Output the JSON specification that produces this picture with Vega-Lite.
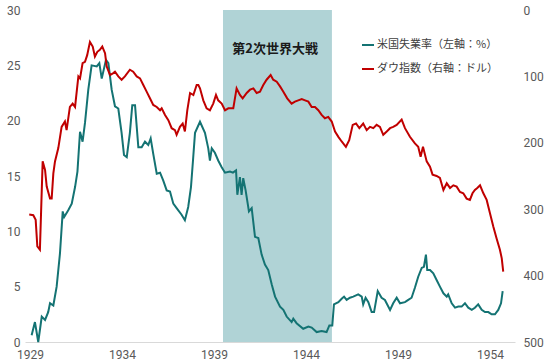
{
  "$schema": "https://vega.github.io/schema/vega-lite/v6.json",
  "width": 490,
  "height": 332,
  "autosize": {"type": "none"},
  "padding": {"left": 25, "top": 10, "right": 35, "bottom": 21},
  "background": "white",
  "config": {
    "view": {"stroke": null},
    "font": "Roboto",
    "axis": {"labelColor": "#595959", "labelFontSize": 12, "labelFont": "Roboto", "ticks": false, "grid": false, "title": null}
  },
  "datasets": {
    "unemp": [
      {"t":1929.09,"v":0.6},{"t":1929.27,"v":1.8},{"t":1929.45,"v":0.0},{"t":1929.64,"v":2.3},{"t":1929.82,"v":2.0},{"t":1929.99,"v":2.7},
      {"t":1930.09,"v":3.5},{"t":1930.27,"v":3.3},{"t":1930.45,"v":5.0},{"t":1930.63,"v":8.0},{"t":1930.78,"v":11.8},{"t":1930.86,"v":11.3},
      {"t":1931.08,"v":11.9},{"t":1931.27,"v":12.5},{"t":1931.45,"v":14.0},{"t":1931.58,"v":15.4},{"t":1931.72,"v":19.0},{"t":1931.86,"v":18.1},{"t":1931.99,"v":19.8},
      {"t":1932.17,"v":22.8},{"t":1932.35,"v":25.0},{"t":1932.63,"v":24.9},{"t":1932.77,"v":25.2},{"t":1932.90,"v":23.8},
      {"t":1933.13,"v":25.5},{"t":1933.26,"v":25.2},{"t":1933.44,"v":22.8},{"t":1933.62,"v":21.3},{"t":1933.80,"v":21.1},{"t":1933.98,"v":18.9},
      {"t":1934.11,"v":16.9},{"t":1934.26,"v":16.7},{"t":1934.43,"v":18.9},{"t":1934.56,"v":21.4},{"t":1934.71,"v":21.4},{"t":1934.89,"v":17.6},
      {"t":1935.07,"v":17.6},{"t":1935.25,"v":18.1},{"t":1935.43,"v":17.8},{"t":1935.56,"v":18.4},{"t":1935.70,"v":17.0},{"t":1935.89,"v":15.2},
      {"t":1936.07,"v":15.3},{"t":1936.24,"v":14.6},{"t":1936.43,"v":13.7},{"t":1936.61,"v":13.6},{"t":1936.79,"v":12.5},{"t":1936.97,"v":12.1},
      {"t":1937.24,"v":11.5},{"t":1937.42,"v":11.0},{"t":1937.60,"v":12.2},{"t":1937.75,"v":14.0},{"t":1937.86,"v":16.4},{"t":1937.97,"v":18.9},
      {"t":1938.24,"v":19.9},{"t":1938.51,"v":18.9},{"t":1938.69,"v":17.5},{"t":1938.78,"v":16.4},{"t":1938.88,"v":17.5},
      {"t":1939.05,"v":17.1},{"t":1939.23,"v":16.4},{"t":1939.42,"v":15.8},{"t":1939.60,"v":15.3},{"t":1939.87,"v":15.4},
      {"t":1940.03,"v":15.3},{"t":1940.20,"v":15.5},{"t":1940.27,"v":13.3},{"t":1940.41,"v":14.9},{"t":1940.50,"v":13.3},{"t":1940.59,"v":14.8},{"t":1940.72,"v":13.7},{"t":1940.90,"v":11.8},
      {"t":1941.05,"v":12.1},{"t":1941.23,"v":9.5},{"t":1941.41,"v":9.4},{"t":1941.59,"v":7.9},{"t":1941.77,"v":7.0},{"t":1941.95,"v":6.5},
      {"t":1942.14,"v":5.2},{"t":1942.32,"v":4.1},{"t":1942.59,"v":3.2},{"t":1942.77,"v":2.9},{"t":1942.95,"v":2.3},
      {"t":1943.22,"v":1.8},{"t":1943.31,"v":2.1},{"t":1943.49,"v":1.7},{"t":1943.85,"v":1.2},
      {"t":1944.13,"v":1.4},{"t":1944.31,"v":1.3},{"t":1944.58,"v":0.9},{"t":1944.85,"v":1.0},
      {"t":1945.12,"v":0.9},{"t":1945.27,"v":1.5},{"t":1945.43,"v":1.5},{"t":1945.52,"v":3.4},{"t":1945.76,"v":3.6},{"t":1945.94,"v":3.9},
      {"t":1946.07,"v":4.1},{"t":1946.21,"v":3.8},{"t":1946.39,"v":4.0},{"t":1946.57,"v":4.1},{"t":1946.84,"v":4.3},
      {"t":1947.03,"v":4.1},{"t":1947.11,"v":3.4},{"t":1947.24,"v":4.0},{"t":1947.39,"v":3.6},{"t":1947.57,"v":2.7},{"t":1947.70,"v":2.7},{"t":1947.90,"v":4.6},
      {"t":1948.11,"v":4.0},{"t":1948.29,"v":3.8},{"t":1948.57,"v":2.9},{"t":1948.74,"v":3.5},{"t":1948.93,"v":4.0},
      {"t":1949.11,"v":3.5},{"t":1949.38,"v":3.6},{"t":1949.56,"v":3.8},{"t":1949.74,"v":4.0},{"t":1949.92,"v":4.9},
      {"t":1950.10,"v":5.9},{"t":1950.29,"v":6.7},{"t":1950.41,"v":6.8},{"t":1950.52,"v":7.9},{"t":1950.59,"v":6.5},{"t":1950.74,"v":6.5},{"t":1950.92,"v":6.2},
      {"t":1951.10,"v":5.6},{"t":1951.28,"v":5.0},{"t":1951.47,"v":4.4},{"t":1951.65,"v":4.1},{"t":1951.73,"v":4.3},{"t":1951.92,"v":3.5},
      {"t":1952.10,"v":3.1},{"t":1952.28,"v":3.2},{"t":1952.46,"v":3.2},{"t":1952.64,"v":3.5},{"t":1952.82,"v":3.1},
      {"t":1953.01,"v":2.9},{"t":1953.18,"v":3.1},{"t":1953.36,"v":3.4},{"t":1953.55,"v":2.9},{"t":1953.73,"v":2.7},{"t":1953.91,"v":2.7},
      {"t":1954.09,"v":2.5},{"t":1954.27,"v":2.5},{"t":1954.45,"v":2.9},{"t":1954.60,"v":3.5},{"t":1954.69,"v":4.6}
    ],
    "dow": [
      {"t":1928.96,"v":308},{"t":1929.18,"v":309},{"t":1929.31,"v":316},{"t":1929.40,"v":356},{"t":1929.54,"v":361},{"t":1929.69,"v":228},
      {"t":1929.82,"v":241},{"t":1929.91,"v":266},{"t":1930.09,"v":284},{"t":1930.18,"v":284},{"t":1930.27,"v":246},{"t":1930.36,"v":228},
      {"t":1930.54,"v":208},{"t":1930.72,"v":176},{"t":1930.90,"v":168},{"t":1930.99,"v":181},{"t":1931.17,"v":146},{"t":1931.32,"v":141},
      {"t":1931.45,"v":146},{"t":1931.63,"v":100},{"t":1931.72,"v":103},{"t":1931.86,"v":80},{"t":1931.99,"v":78},{"t":1932.11,"v":68},
      {"t":1932.26,"v":48},{"t":1932.41,"v":55},{"t":1932.53,"v":70},{"t":1932.66,"v":63},{"t":1932.80,"v":60},{"t":1932.93,"v":55},
      {"t":1933.08,"v":65},{"t":1933.17,"v":85},{"t":1933.35,"v":98},{"t":1933.53,"v":95},{"t":1933.62,"v":93},{"t":1933.80,"v":100},
      {"t":1933.98,"v":105},{"t":1934.16,"v":100},{"t":1934.43,"v":90},{"t":1934.61,"v":93},{"t":1934.80,"v":100},{"t":1934.98,"v":103},
      {"t":1935.16,"v":113},{"t":1935.34,"v":123},{"t":1935.52,"v":133},{"t":1935.70,"v":143},{"t":1935.89,"v":146},{"t":1936.07,"v":151},
      {"t":1936.16,"v":148},{"t":1936.34,"v":158},{"t":1936.52,"v":166},{"t":1936.70,"v":178},{"t":1936.88,"v":181},{"t":1936.97,"v":188},
      {"t":1937.15,"v":176},{"t":1937.30,"v":171},{"t":1937.42,"v":183},{"t":1937.55,"v":151},{"t":1937.70,"v":125},{"t":1937.88,"v":128},
      {"t":1938.06,"v":113},{"t":1938.15,"v":113},{"t":1938.24,"v":118},{"t":1938.42,"v":136},{"t":1938.60,"v":148},{"t":1938.78,"v":151},
      {"t":1938.96,"v":141},{"t":1939.11,"v":128},{"t":1939.23,"v":136},{"t":1939.42,"v":141},{"t":1939.60,"v":151},{"t":1939.78,"v":148},
      {"t":1940.05,"v":148},{"t":1940.11,"v":138},{"t":1940.23,"v":118},{"t":1940.41,"v":128},{"t":1940.56,"v":133},{"t":1940.78,"v":125},
      {"t":1940.96,"v":120},{"t":1941.14,"v":118},{"t":1941.32,"v":125},{"t":1941.50,"v":123},{"t":1941.68,"v":113},{"t":1941.86,"v":105},
      {"t":1942.08,"v":98},{"t":1942.22,"v":105},{"t":1942.41,"v":108},{"t":1942.59,"v":115},{"t":1942.77,"v":123},{"t":1942.98,"v":133},
      {"t":1943.22,"v":141},{"t":1943.40,"v":138},{"t":1943.58,"v":136},{"t":1943.77,"v":134},{"t":1943.95,"v":136},{"t":1944.13,"v":138},
      {"t":1944.31,"v":146},{"t":1944.49,"v":146},{"t":1944.67,"v":151},{"t":1944.85,"v":158},{"t":1945.03,"v":163},{"t":1945.21,"v":161},
      {"t":1945.40,"v":168},{"t":1945.58,"v":183},{"t":1945.76,"v":191},{"t":1945.94,"v":198},{"t":1946.17,"v":206},{"t":1946.35,"v":196},
      {"t":1946.54,"v":173},{"t":1946.72,"v":171},{"t":1946.90,"v":178},{"t":1947.11,"v":171},{"t":1947.30,"v":181},{"t":1947.48,"v":176},
      {"t":1947.66,"v":178},{"t":1947.84,"v":173},{"t":1948.02,"v":176},{"t":1948.20,"v":188},{"t":1948.39,"v":183},{"t":1948.57,"v":178},
      {"t":1948.74,"v":176},{"t":1948.93,"v":173},{"t":1949.20,"v":165},{"t":1949.38,"v":178},{"t":1949.65,"v":191},{"t":1949.92,"v":201},
      {"t":1950.10,"v":206},{"t":1950.23,"v":221},{"t":1950.36,"v":206},{"t":1950.56,"v":228},{"t":1950.74,"v":236},{"t":1950.88,"v":248},
      {"t":1951.10,"v":250},{"t":1951.28,"v":253},{"t":1951.47,"v":271},{"t":1951.65,"v":261},{"t":1951.83,"v":268},{"t":1952.01,"v":264},
      {"t":1952.19,"v":266},{"t":1952.37,"v":274},{"t":1952.55,"v":276},{"t":1952.73,"v":284},{"t":1952.91,"v":286},{"t":1953.05,"v":276},
      {"t":1953.18,"v":271},{"t":1953.31,"v":268},{"t":1953.46,"v":264},{"t":1953.64,"v":276},{"t":1953.82,"v":286},{"t":1954.00,"v":306},
      {"t":1954.18,"v":326},{"t":1954.36,"v":344},{"t":1954.54,"v":361},{"t":1954.64,"v":374},{"t":1954.72,"v":394}
    ],
    "war": [{"start":1939.49,"end":1945.41,"t":1942.32,"y":26.5,"label":"第2次世界大戦"}]
  },
  "layer": [
    {
      "layer": [
        {
          "data": {"name": "war"},
          "mark": {"type": "rect", "color": "#b0d3d6"},
          "encoding": {
            "x": {"field": "start", "type": "quantitative", "scale": {"domain": [1928.73, 1955.36], "nice": false, "zero": false}},
            "x2": {"field": "end"}
          }
        },
        {
          "data": {"name": "war"},
          "mark": {"type": "text", "font": "Noto Sans CJK JP", "fontSize": 13, "fontWeight": "bold", "color": "#1a1a1a"},
          "encoding": {
            "x": {"field": "t", "type": "quantitative"},
            "y": {"field": "y", "type": "quantitative"},
            "text": {"field": "label"}
          }
        },
        {
          "data": {"name": "unemp"},
          "mark": {"type": "line", "strokeWidth": 2},
          "encoding": {
            "x": {"field": "t", "type": "quantitative",
              "axis": {"values": [1929,1934,1939,1944,1949,1954], "format": "d", "domainColor": "#d9d9d9", "domainWidth": 1, "labelPadding": 7, "labelFlush": false}},
            "y": {"field": "v", "type": "quantitative", "scale": {"domain": [0, 30], "nice": false},
              "axis": {"orient": "left", "values": [0,5,10,15,20,25,30], "domain": false, "labelPadding": 5}},
            "color": {"datum": "米国失業率（左軸：%）", "type": "nominal",
              "scale": {"domain": ["米国失業率（左軸：%）", "ダウ指数（右軸：ドル）"], "range": ["#147373", "#c00000"]},
              "legend": {"orient": "none", "legendX": 336, "legendY": 28, "title": null, "symbolType": "stroke", "symbolSize": 144, "symbolStrokeWidth": 2,
                "labelFont": "Noto Sans CJK JP", "labelFontSize": 11, "labelColor": "#404040", "labelOffset": 2, "rowPadding": 12}}
          }
        }
      ]
    },
    {
      "data": {"name": "dow"},
      "mark": {"type": "line", "strokeWidth": 2},
      "encoding": {
        "x": {"field": "t", "type": "quantitative"},
        "y": {"field": "v", "type": "quantitative", "scale": {"domain": [0, 500], "reverse": true, "nice": false},
          "axis": {"orient": "right", "values": [0,100,200,300,400,500], "domain": false, "labelPadding": 8}},
        "color": {"datum": "ダウ指数（右軸：ドル）", "type": "nominal"}
      }
    }
  ],
  "resolve": {"scale": {"y": "independent"}}
}
